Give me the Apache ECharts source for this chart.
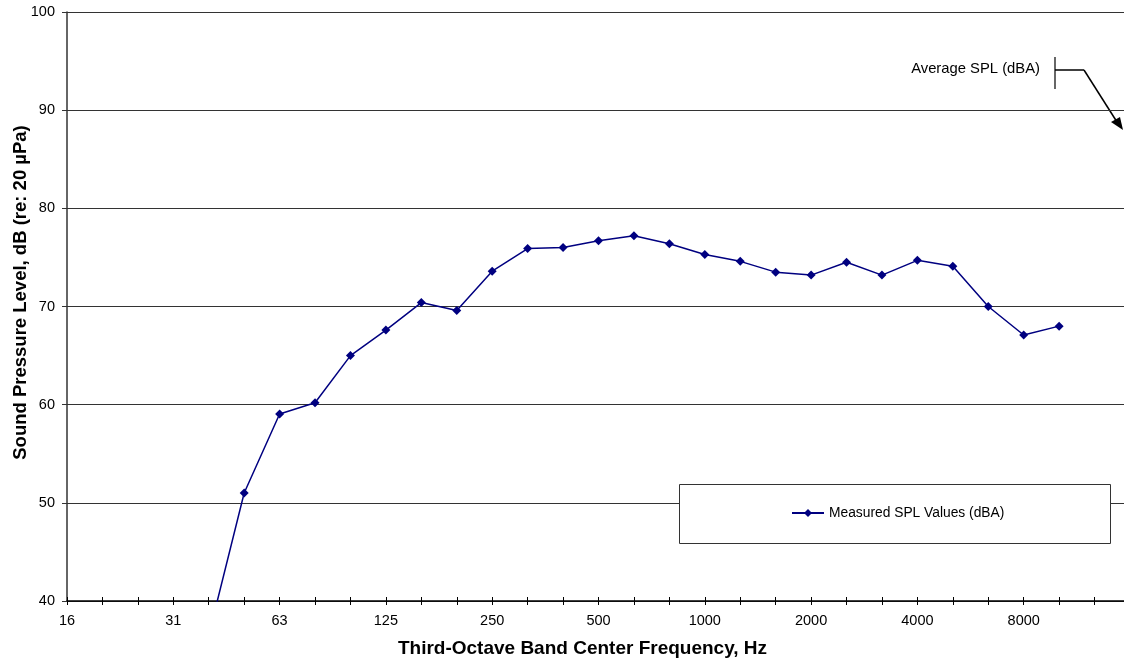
<!DOCTYPE html>
<html>
<head>
<meta charset="utf-8">
<script src="https://cdn.jsdelivr.net/npm/echarts@6/dist/echarts.min.js"></script>
<style>html,body{margin:0;padding:0;background:#fff;overflow:hidden;}#c{width:1124px;height:662px;}</style>
</head>
<body>
<div id="c"></div>
<script>
const categories = ["16","20","25","31","40","50","63","80","100","125","160","200","250","315","400","500","630","800","1000","1250","1600","2000","2500","3150","4000","5000","6300","8000","10000","12500","16000"];
const measuredSPL = [null,null,null,null,36.5,51.0,59.05,60.2,65.0,67.6,70.4,69.6,73.6,75.9,76.0,76.7,77.2,76.4,75.3,74.6,73.5,73.2,74.5,73.2,74.7,74.1,70.0,67.1,68.0,null,null];
const yTicks = [40,50,60,70,80,90,100];

const chart = echarts.init(document.getElementById('c'), null, {renderer:'canvas'});
const font = 'Liberation Sans, Arial, sans-serif';
chart.setOption({
  animation: false,
  backgroundColor: '#fff',
  textStyle: {fontFamily: font},
  grid: {left: 67, right: -6, top: 12, bottom: 61, containLabel: false, outerBoundsMode: 'none'},
  xAxis: [{
    type: 'category',
    data: categories,
    boundaryGap: false,
    name: 'Third-Octave Band Center Frequency, Hz',
    nameLocation: 'middle',
    nameGap: 38,
    nameMoveOverlap: false,
    nameTextStyle: {fontFamily: font, fontSize: 19, fontWeight: 'bold', color: '#000', padding: [0, 32, 0, 0]},
    axisLine: {lineStyle: {color: '#000', width: 1.5}},
    axisTick: {show: true, interval: 0, length: 4, lineStyle: {color: '#000'}},
    axisLabel: {interval: 2, showMaxLabel: false, margin: 12, fontFamily: font, fontSize: 14.5, color: '#000'},
    splitLine: {show: false}
  }, {
    type: 'category',
    data: categories,
    boundaryGap: false,
    position: 'bottom',
    axisLine: {show: false},
    axisTick: {show: true, inside: true, interval: 0, length: 4, lineStyle: {color: '#000'}},
    axisLabel: {show: false},
    splitLine: {show: false}
  }],
  yAxis: {
    type: 'value',
    min: yTicks[0],
    max: yTicks[yTicks.length - 1],
    interval: 10,
    name: 'Sound Pressure Level, dB (re: 20 \u00b5Pa)',
    nameLocation: 'middle',
    nameGap: 37,
    nameMoveOverlap: false,
    nameTextStyle: {fontFamily: font, fontSize: 18.5, fontWeight: 'bold', color: '#000', padding: [0, 0, 0, 28]},
    axisLine: {show: true, lineStyle: {color: '#333', width: 1.5}},
    axisTick: {show: true, length: 5, lineStyle: {color: '#333'}},
    axisLabel: {margin: 12, fontFamily: font, fontSize: 14.5, color: '#000'},
    splitLine: {show: true, lineStyle: {color: '#333', width: 1.2}}
  },
  legend: {
    left: 791,
    top: 506,
    padding: 0,
    itemWidth: 32,
    itemHeight: 10,
    itemGap: 5,
    textStyle: {fontFamily: font, fontSize: 13.8, color: '#000'},
    data: ['Measured SPL Values (dBA)']
  },
  series: [{
    name: 'Measured SPL Values (dBA)',
    type: 'line',
    data: measuredSPL,
    clip: true,
    connectNulls: false,
    symbol: 'diamond',
    symbolSize: 9,
    showAllSymbol: true,
    lineStyle: {color: '#000080', width: 1.5},
    itemStyle: {color: '#000080'},
    z: 5
  }],
  graphic: [
    {type: 'rect', shape: {x: 679.5, y: 484.5, width: 431, height: 59}, style: {fill: '#fff', stroke: '#333', lineWidth: 1}, z: 1},
    {type: 'text', x: 1040, y: 69, style: {text: 'Average SPL (dBA)', fill: '#000', font: '14.8px ' + font, align: 'right', verticalAlign: 'middle'}},
    {type: 'line', shape: {x1: 1055, y1: 57, x2: 1055, y2: 89}, style: {stroke: '#000', lineWidth: 1.2}},
    {type: 'line', shape: {x1: 1055, y1: 70, x2: 1084, y2: 70}, style: {stroke: '#000', lineWidth: 1.5}},
    {type: 'line', shape: {x1: 1084, y1: 70, x2: 1117, y2: 122}, style: {stroke: '#000', lineWidth: 1.5}},
    {type: 'polygon', shape: {points: [[1123, 130], [1111, 122], [1120, 117]]}, style: {fill: '#000'}}
  ]
});
</script>
</body>
</html>
